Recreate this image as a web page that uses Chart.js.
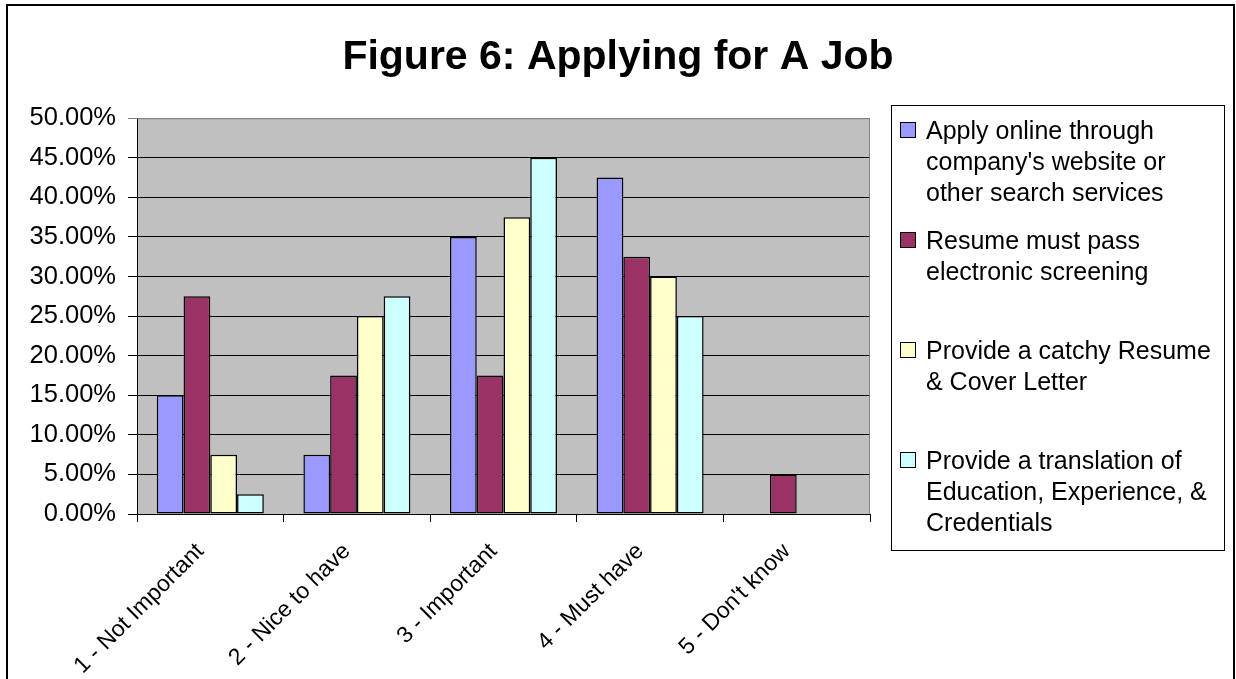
<!DOCTYPE html>
<html>
<head>
<meta charset="utf-8">
<title>Figure 6: Applying for A Job</title>
<script src="https://cdn.jsdelivr.net/npm/chart.js@4.4.1/dist/chart.umd.min.js"></script>
<style>
  html, body { margin: 0; padding: 0; background: #fff; }
  #wrap { width: 1236px; height: 679px; }
</style>
</head>
<body>
<div id="wrap"><canvas id="jobChart" width="1236" height="679"></canvas></div>
<script>
// ============================
// Data (percent of responses)
// ============================
const categories = ["1 - Not Important", "2 - Nice to have", "3 - Important", "4 - Must have", "5 - Don't know"];

const applyOnline = [15, 7.5, 35, 42.5, 0];
const electronicScreening = [27.5, 17.5, 17.5, 32.5, 5];
const catchyResume = [7.5, 25, 37.5, 30, 0];
const translation = [2.5, 27.5, 45, 25, 0];

const seriesLines = [
    ["Apply online through", "company's website or", "other search services"],
    ["Resume must pass", "electronic screening"],
    ["Provide a catchy Resume", "& Cover Letter"],
    ["Provide a translation of", "Education, Experience, &", "Credentials"]
];
const seriesColors = ["#9999FF", "#993366", "#FFFFCC", "#CCFFFF"];

const FONT = "'Liberation Sans', Arial, sans-serif";

// ============================
// Plugins
// ============================
// grey plot area behind the grid
const plotBackground = {
    id: "plotBackground",
    beforeDraw(chart) {
        const { ctx, chartArea: a } = chart;
        ctx.save();
        ctx.fillStyle = "#fff";
        ctx.fillRect(0, 0, chart.width, chart.height);
        ctx.fillStyle = "#C0C0C0";
        ctx.fillRect(a.left, a.top, a.right - a.left, a.bottom - a.top);
        ctx.restore();
    },
    afterDatasetsDraw(chart) {
        const { ctx, chartArea: a } = chart;
        ctx.save();
        ctx.strokeStyle = "#808080";
        ctx.lineWidth = 1;
        ctx.beginPath();
        ctx.moveTo(a.left, a.top + 0.5);
        ctx.lineTo(a.right - 0.5, a.top + 0.5);
        ctx.lineTo(a.right - 0.5, a.bottom);
        ctx.stroke();
        ctx.restore();
    }
};

// boxed legend with wrapped labels, plus the outer frame
const boxLegend = {
    id: "boxLegend",
    afterDraw(chart) {
        const { ctx, chartArea: a } = chart;
        const left = a.right + 21;
        const top = 105;
        const w = 333, h = 445;
        ctx.save();
        ctx.fillStyle = "#fff";
        ctx.fillRect(left, top, w, h);
        ctx.strokeStyle = "#000";
        ctx.lineWidth = 1;
        ctx.strokeRect(left + 0.5, top + 0.5, w, h);

        ctx.font = "25px " + FONT;
        ctx.textBaseline = "alphabetic";
        ctx.textAlign = "left";
        chart.data.datasets.forEach((ds, i) => {
            const base = 139 + i * 110;
            ctx.fillStyle = ds.backgroundColor;
            ctx.fillRect(left + 9, base - 17, 16, 16);
            ctx.strokeRect(left + 9.5, base - 16.5, 15, 15);
            ctx.fillStyle = "#000";
            seriesLines[i].forEach((line, j) => {
                ctx.fillText(line, left + 35, base + j * 31);
            });
        });

        // chart frame
        ctx.lineWidth = 2;
        ctx.strokeRect(7, 5, 1227, 700);
        ctx.restore();
    }
};

// ============================
// Chart
// ============================
const ctx = document.getElementById("jobChart").getContext("2d");

const jobChart = new Chart(ctx, {
    type: "bar",
    data: {
        labels: categories,
        datasets: [applyOnline, electronicScreening, catchyResume, translation].map((values, i) => ({
            label: seriesLines[i].join(" "),
            data: values,
            backgroundColor: seriesColors[i],
            borderColor: "#000",
            borderWidth: 1.5,
            borderSkipped: false,
            categoryPercentage: 0.73,
            barPercentage: 1.0
        }))
    },
    options: {
        responsive: false,
        animation: false,
        layout: { padding: 0 },
        plugins: {
            legend: { display: false },
            tooltip: { enabled: false },
            title: {
                display: true,
                text: "Figure 6: Applying for A Job",
                color: "#000",
                font: { family: FONT, size: 41, weight: "bold", lineHeight: 1.2 },
                padding: { top: 33, bottom: 36 }
            }
        },
        scales: {
            x: {
                grid: { drawOnChartArea: false, drawTicks: true, tickLength: 8, color: "#000" },
                border: { color: "#000", width: 1 },
                ticks: {
                    color: "#000",
                    font: { family: FONT, size: 23 },
                    minRotation: 45,
                    maxRotation: 45,
                    autoSkip: false,
                    padding: 16,
                    labelOffset: -10
                },
                afterFit(scale) { scale.height = 165; }
            },
            y: {
                min: 0,
                max: 50,
                grid: {
                    color: (c) => (c.tick && c.tick.value === 50 ? "#808080" : "#000"),
                    tickLength: 9,
                    drawTicks: true
                },
                border: { color: "#000", width: 1 },
                ticks: {
                    stepSize: 5,
                    color: "#000",
                    padding: 12,
                    font: { family: FONT, size: 25.5 },
                    callback: (v) => v.toFixed(2) + "%"
                },
                afterFit(scale) { scale.width = 137; }
            },
            legendSpace: {
                position: "right",
                grid: { display: false },
                border: { display: false },
                ticks: { display: false },
                afterFit(scale) { scale.width = 366; }
            }
        }
    },
    plugins: [plotBackground, boxLegend]
});
</script>
</body>
</html>
